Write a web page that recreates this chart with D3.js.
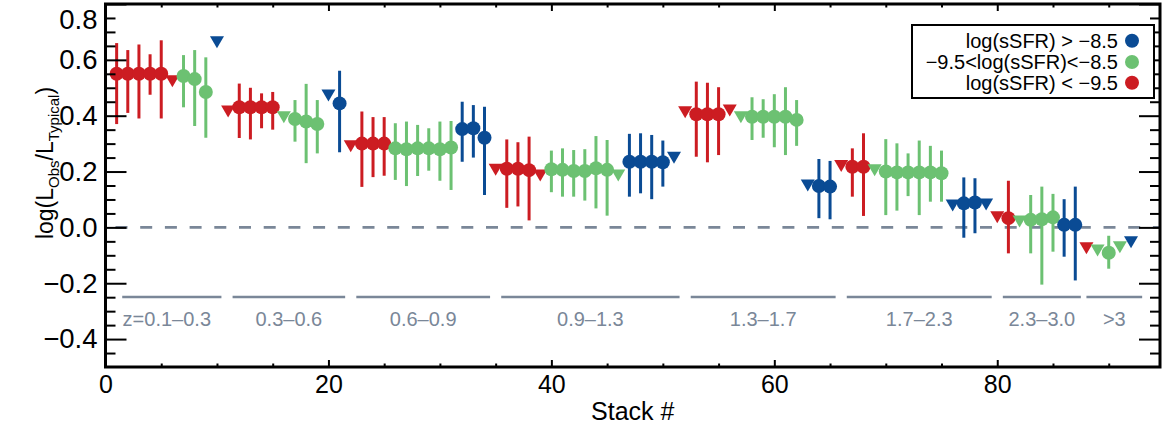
<!DOCTYPE html>
<html>
<head>
<meta charset="utf-8">
<script src="https://cdn.jsdelivr.net/npm/d3@7"></script>
<style>
  html, body { margin: 0; padding: 0; background: #fff; }
  svg { display: block; }
  text { font-family: "Liberation Sans", Arial, Helvetica, sans-serif; }
</style>
</head>
<body>
<svg id="chart" width="1169" height="437"></svg>
<script>
// ---------------- DATA ----------------
// Red: log(sSFR) < -9.5
const redStacks   = [1, 2, 3, 4, 5, 12, 13, 14, 15, 23, 24, 25, 36, 37, 38, 53, 54, 55, 67, 68, 81];
const redValues   = [0.55, 0.55, 0.55, 0.55, 0.55, 0.43, 0.43, 0.43, 0.43, 0.30, 0.30, 0.30, 0.21, 0.21, 0.205, 0.405, 0.405, 0.405, 0.217, 0.217, 0.033];
const redErrLow   = [0.37, 0.41, 0.39, 0.475, 0.39, 0.32, 0.315, 0.355, 0.35, 0.145, 0.18, 0.185, 0.07, 0.075, 0.025, 0.253, 0.233, 0.259, 0.11, 0.041, -0.093];
const redErrHigh  = [0.66, 0.635, 0.655, 0.62, 0.67, 0.515, 0.50, 0.48, 0.485, 0.415, 0.395, 0.395, 0.315, 0.305, 0.325, 0.522, 0.518, 0.502, 0.283, 0.337, 0.167];
const redLimStacks = [6, 11, 22, 35, 39, 52, 56, 66, 80, 88];
const redLimValues = [0.525, 0.417, 0.292, 0.208, 0.188, 0.414, 0.42, 0.222, 0.038, -0.073];

// Green: -9.5 < log(sSFR) < -8.5
const greenStacks  = [7, 8, 9, 17, 18, 19, 26, 27, 28, 29, 30, 31, 40, 41, 42, 43, 44, 45, 58, 59, 60, 61, 62, 70, 71, 72, 73, 74, 75, 83, 84, 85, 90];
const greenValues  = [0.542, 0.531, 0.485, 0.388, 0.379, 0.37, 0.283, 0.28, 0.283, 0.283, 0.28, 0.286, 0.208, 0.206, 0.202, 0.202, 0.212, 0.206, 0.396, 0.396, 0.396, 0.396, 0.385, 0.2, 0.197, 0.197, 0.197, 0.197, 0.194, 0.027, 0.029, 0.036, -0.091];
const greenErrLow  = [0.43, 0.363, 0.321, 0.307, 0.23, 0.265, 0.17, 0.148, 0.184, 0.203, 0.167, 0.134, 0.126, 0.11, 0.11, 0.096, 0.068, 0.042, 0.313, 0.321, 0.287, 0.259, 0.292, 0.044, 0.06, 0.112, 0.044, 0.092, 0.092, -0.093, -0.205, -0.087, -0.148];
const greenErrHigh = [0.617, 0.635, 0.609, 0.456, 0.514, 0.456, 0.373, 0.379, 0.367, 0.355, 0.379, 0.381, 0.275, 0.283, 0.277, 0.28, 0.327, 0.313, 0.466, 0.459, 0.477, 0.502, 0.456, 0.316, 0.301, 0.265, 0.311, 0.292, 0.275, 0.116, 0.146, 0.12, -0.03];
const greenLimStacks = [16, 46, 57, 69, 82, 89, 91];
const greenLimValues = [0.396, 0.188, 0.396, 0.206, 0.023, -0.081, -0.069];

// Blue: log(sSFR) > -8.5
const blueStacks   = [21, 32, 33, 34, 47, 48, 49, 50, 64, 65, 77, 78, 86, 87];
const blueValues   = [0.444, 0.352, 0.355, 0.321, 0.235, 0.235, 0.235, 0.233, 0.148, 0.146, 0.086, 0.089, 0.009, 0.009];
const blueErrLow   = [0.269, 0.235, 0.25, 0.116, 0.11, 0.122, 0.101, 0.146, 0.033, 0.029, -0.037, -0.021, -0.105, -0.19];
const blueErrHigh  = [0.561, 0.45, 0.438, 0.432, 0.335, 0.337, 0.331, 0.311, 0.245, 0.238, 0.179, 0.176, 0.101, 0.146];
const blueLimStacks = [10, 20, 51, 63, 76, 79, 92];
const blueLimValues = [0.665, 0.474, 0.251, 0.152, 0.08, 0.084, -0.051];

// Redshift bins (in stack-number units)
const zBinStart  = [1.5, 11.4, 22.5, 35.5, 52.5, 66.5, 80.5, 88.0];
const zBinEnd    = [10.4, 21.5, 34.5, 51.5, 65.5, 79.5, 87.5, 93.0];
const zBinLabels = ["z=0.1\u20130.3", "0.3\u20130.6", "0.6\u20130.9", "0.9\u20131.3", "1.3\u20131.7", "1.7\u20132.3", "2.3\u20133.0", ">3"];

// Legend
const legendLabels = ["log(sSFR) > \u22128.5", "\u22129.5<log(sSFR)<\u22128.5", "log(sSFR) < \u22129.5"];

// Axis ticks
const xMajorTicks = [0, 20, 40, 60, 80];
const xMinorTicks = [5, 10, 15, 25, 30, 35, 45, 50, 55, 65, 70, 75, 85, 90];
const yMajorTicks = [-0.4, -0.2, 0.0, 0.2, 0.4, 0.6, 0.8];
const yMinorTicks = [-0.45, -0.35, -0.3, -0.25, -0.15, -0.1, -0.05, 0.05, 0.1, 0.15, 0.25, 0.3, 0.35, 0.45, 0.5, 0.55, 0.65, 0.7, 0.75];

// ---------------- STYLE ----------------
const COL_RED = "#cc1c22";
const COL_GREEN = "#6cc172";
const COL_BLUE = "#0a4b94";
const COL_GREY = "#7a8798";

const svg = d3.select("#chart");
const X0 = 105.5, X1 = 1160, Y0 = 4, Y1 = 367;
const x = d3.scaleLinear().domain([0, 94.6]).range([X0, X1]);
const y = d3.scaleLinear().domain([-0.5, 0.8]).range([Y1, Y0]);

// zero dashed line
svg.append("line")
  .attr("x1", x(0)).attr("x2", x(94.6))
  .attr("y1", y(0)).attr("y2", y(0))
  .attr("stroke", COL_GREY).attr("stroke-width", 2.6)
  .attr("stroke-dasharray", "12,12.7").attr("stroke-dashoffset", -10);

// redshift bins
const zg = svg.append("g");
zBinStart.forEach((s, i) => {
  zg.append("line")
    .attr("x1", x(s)).attr("x2", x(zBinEnd[i]))
    .attr("y1", 297).attr("y2", 297)
    .attr("stroke", COL_GREY).attr("stroke-width", 2.5);
  zg.append("text")
    .attr("x", (x(s) + x(zBinEnd[i])) / 2 + (i === 0 ? -5 : 0))
    .attr("y", 326)
    .attr("text-anchor", "middle")
    .attr("font-size", 20)
    .attr("fill", COL_GREY)
    .text(zBinLabels[i]);
});

// data series
const series = [
  { c: COL_RED, s: redStacks, v: redValues, lo: redErrLow, hi: redErrHigh, ls: redLimStacks, lv: redLimValues },
  { c: COL_GREEN, s: greenStacks, v: greenValues, lo: greenErrLow, hi: greenErrHigh, ls: greenLimStacks, lv: greenLimValues },
  { c: COL_BLUE, s: blueStacks, v: blueValues, lo: blueErrLow, hi: blueErrHigh, ls: blueLimStacks, lv: blueLimValues }
];
const tri = "M-7,-5.5L7,-5.5L0,6.5Z";
series.forEach(d => {
  const g = svg.append("g");
  g.selectAll("line.err").data(d.s).enter().append("line")
    .attr("x1", (s) => x(s)).attr("x2", (s) => x(s))
    .attr("y1", (s, i) => y(d.lo[i])).attr("y2", (s, i) => y(d.hi[i]))
    .attr("stroke", d.c).attr("stroke-width", 3);
  g.selectAll("circle").data(d.s).enter().append("circle")
    .attr("cx", (s) => x(s)).attr("cy", (s, i) => y(d.v[i]))
    .attr("r", 7).attr("fill", d.c);
  g.selectAll("path").data(d.ls).enter().append("path")
    .attr("d", tri)
    .attr("transform", (s, i) => `translate(${x(s)},${y(d.lv[i])})`)
    .attr("fill", d.c);
});

// axes (ticks inward on all four sides)
function styleAxis(g, size) {
  g.select(".domain").remove();
  g.selectAll(".tick line").attr("stroke", "#000").attr("stroke-width", 2);
  g.selectAll(".tick text").attr("font-size", size || 25).attr("fill", "#000")
    .attr("font-family", "'Liberation Sans', Arial, sans-serif");
}
const fmt = d3.format(".1f");
const yLeft = svg.append("g").attr("transform", `translate(${X0},0)`)
  .call(d3.axisLeft(y).tickValues(yMajorTicks).tickSizeInner(-21).tickSizeOuter(0).tickPadding(8).tickFormat(fmt))
  .call(g => styleAxis(g, 27.5));
// keep the top label inside the picture, as in the reference
yLeft.selectAll(".tick text").filter(d => d === 0.8).attr("dy", "0.32em").attr("y", 16);
svg.append("g").attr("transform", `translate(${X0},0)`)
  .call(d3.axisLeft(y).tickValues(yMinorTicks).tickSizeInner(-10).tickSizeOuter(0).tickFormat(""))
  .call(styleAxis);
svg.append("g").attr("transform", `translate(${X1},0)`)
  .call(d3.axisRight(y).tickValues(yMajorTicks).tickSizeInner(-21).tickSizeOuter(0).tickFormat(""))
  .call(styleAxis);
svg.append("g").attr("transform", `translate(${X1},0)`)
  .call(d3.axisRight(y).tickValues(yMinorTicks).tickSizeInner(-10).tickSizeOuter(0).tickFormat(""))
  .call(styleAxis);
svg.append("g").attr("transform", `translate(0,${Y1})`)
  .call(d3.axisBottom(x).tickValues(xMajorTicks).tickSizeInner(-7).tickSizeOuter(0).tickPadding(8).tickFormat(d3.format("d")))
  .call(styleAxis);
svg.append("g").attr("transform", `translate(0,${Y1})`)
  .call(d3.axisBottom(x).tickValues(xMinorTicks).tickSizeInner(-3.5).tickSizeOuter(0).tickFormat(""))
  .call(styleAxis);
svg.append("g").attr("transform", `translate(0,${Y0})`)
  .call(d3.axisTop(x).tickValues(xMajorTicks).tickSizeInner(-7).tickSizeOuter(0).tickFormat(""))
  .call(styleAxis);
svg.append("g").attr("transform", `translate(0,${Y0})`)
  .call(d3.axisTop(x).tickValues(xMinorTicks).tickSizeInner(-3.5).tickSizeOuter(0).tickFormat(""))
  .call(styleAxis);

// frame
svg.append("rect")
  .attr("x", X0).attr("y", Y0).attr("width", X1 - X0).attr("height", Y1 - Y0)
  .attr("fill", "none").attr("stroke", "#000").attr("stroke-width", 3);

// axis titles
svg.append("text")
  .attr("x", (X0 + X1) / 2).attr("y", 420)
  .attr("text-anchor", "middle").attr("font-size", 25)
  .text("Stack #");

const yt = svg.append("text")
  .attr("transform", "translate(53,163) rotate(-90)")
  .attr("text-anchor", "middle").attr("font-size", 23);
yt.append("tspan").text("log(L");
yt.append("tspan").attr("font-size", 15).attr("dy", 6).text("Obs");
yt.append("tspan").attr("dy", -6).text("/L");
yt.append("tspan").attr("font-size", 15).attr("dy", 6).text("Typical");
yt.append("tspan").attr("dy", -6).text(")");

// legend
const lg = svg.append("g");
lg.append("rect").attr("x", 912).attr("y", 25).attr("width", 242).attr("height", 73)
  .attr("fill", "#fff").attr("stroke", "#000").attr("stroke-width", 2);
const legendColors = [COL_BLUE, COL_GREEN, COL_RED];
const legendY = [40.7, 62, 82.7];
legendLabels.forEach((t, i) => {
  lg.append("text").attr("x", 1118).attr("y", legendY[i] + 7)
    .attr("text-anchor", "end").attr("font-size", 20).text(t);
  lg.append("circle").attr("cx", 1132).attr("cy", legendY[i]).attr("r", 7)
    .attr("fill", legendColors[i]);
});
</script>
</body>
</html>
